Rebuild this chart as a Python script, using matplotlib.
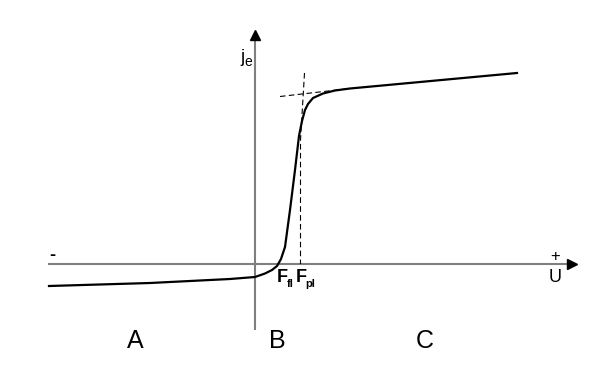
import matplotlib
matplotlib.use("Agg")
import matplotlib.pyplot as plt

plt.rcParams['font.family'] = ['Liberation Sans', 'DejaVu Sans']

# Current-voltage characteristic (U relative to the j-axis, j relative to U-axis)
U = [-206, -105, -25, 0, 10, 17, 22, 26, 30, 35, 40, 44, 47, 50, 53, 58, 68, 80, 95, 262]
j = [-22, -19, -15, -13, -9.5, -6, -2, 5, 17, 54, 94, 128, 143, 154, 160, 166, 170.5, 173.5, 175.5, 191]

# tangent lines (dashed)
tan_flat_U = [25, 95]
tan_flat_j = [167.5, 175.5]
tan_steep_U = [49.5, 45.5, 45.5]
tan_steep_j = [191, 124, 0]

# axes extents
xaxis_U = [-207, 317]
yaxis_j = [-66, 229]

region_labels = ["A", "B", "C"]
region_U = [-120, 22, 170]

fig = plt.figure(figsize=(6, 3.71), dpi=100)
ax = fig.add_axes([0, 0, 1, 1])
ax.set_xlim(-255, 345)
ax.set_ylim(-107, 264)
ax.axis('off')

gray = '#7f7f7f'
ax.plot(xaxis_U, [0, 0], color=gray, lw=1.5, solid_capstyle='butt', zorder=1)
ax.plot([0, 0], yaxis_j, color=gray, lw=1.5, solid_capstyle='butt', zorder=1)
ax.plot([xaxis_U[1]], [0], marker='>', color='black', markersize=7, zorder=3)
ax.plot([0], [yaxis_j[1]], marker='^', color='black', markersize=7, zorder=3)

ax.plot(tan_flat_U, tan_flat_j, color='black', lw=0.8, ls=(0, (5, 3)), zorder=2)
ax.plot(tan_steep_U, tan_steep_j, color='black', lw=0.8, ls=(0, (5, 3)), zorder=2)

ax.plot(U, j, color='black', lw=1.6, solid_joinstyle='round', zorder=4)

# labels
ax.text(-13, 206, "j", fontsize=13, ha='center', va='center')
ax.text(-7, 202, "e", fontsize=10, ha='center', va='center')
ax.text(-203, 8, "-", fontsize=13, fontweight='bold', ha='center', va='center')
ax.text(300, 7, "+", fontsize=12, ha='center', va='center')
ax.text(300, -14, "U", fontsize=13, ha='center', va='center')

ax.text(22, -14, "F", fontsize=13, fontweight='bold', ha='left', va='center')
ax.text(31.5, -20, "fl", fontsize=8, fontweight='bold', ha='left', va='center')
ax.text(41, -14, "F", fontsize=13, fontweight='bold', ha='left', va='center')
ax.text(50.5, -20, "pl", fontsize=8, fontweight='bold', ha='left', va='center')

for lab, u in zip(region_labels, region_U):
    ax.text(u, -77, lab, fontsize=18, ha='center', va='center')

fig.savefig("out.png", dpi=100)
